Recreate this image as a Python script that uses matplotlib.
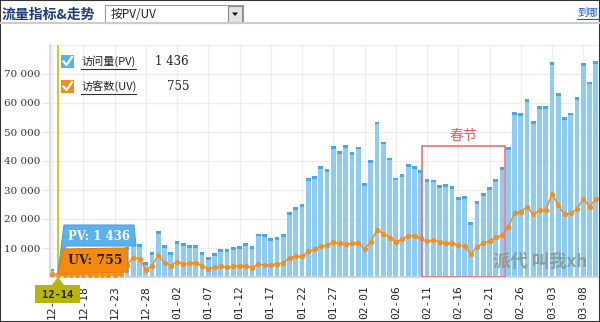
import matplotlib
matplotlib.use("Agg")
import matplotlib.pyplot as plt
from matplotlib.patches import Rectangle, Polygon
import numpy as np
import pandas as pd

# ---------------- data ----------------
start_date = "2012-12-13"
pv = [2900, 1436, 1500, 1700, 1900, 1800, 2100, 2300, 2200, 2500, 2400, 9600, 10200,
      11800, 11500, 5300, 8600, 16000, 11000, 8700, 12500, 11700,
      11000, 11000, 8700, 7000, 8400, 9600, 9500, 10300, 10800, 11600, 10700,
      15000, 14700, 13300, 13900, 14700, 22500, 24000, 25100, 34000, 34700,
      38300, 37300, 45200, 43500, 45500, 43000, 45000, 32500, 40400, 53600,
      46700, 41200, 34300, 35400, 39000, 38200, 36900, 33900, 33600, 31600,
      32200, 31400, 27700, 28000, 18900, 26300, 28900, 31000, 33800, 37900,
      44700, 56800, 56500, 61400, 53800, 59000, 59000, 74000, 63300, 55200,
      56700, 62200, 73700, 67400, 74500]
uv = [950, 755, 800, 760, 820, 780, 850, 800, 760, 820, 790, 900, 4200,
      6700, 6200, 2400, 3900, 7500, 4900, 3900, 5300, 4500,
      4700, 4800, 3800, 2900, 3300, 3800, 3300, 3800, 3800, 3800, 3100,
      4500, 4100, 4100, 4600, 4800, 6700, 7100, 7100, 8900, 9500,
      10700, 10900, 12000, 11600, 11400, 11600, 11800, 9600, 12200, 16200,
      15000, 13600, 12200, 13000, 14300, 14300, 13300, 12300, 12800, 12100,
      11700, 11700, 10900, 10800, 7800, 10500, 11600, 12500, 13700, 14500,
      17100, 22200, 22500, 24200, 21600, 23000, 23000, 28700, 24700, 21600,
      22000, 23400, 27000, 24300, 26800]
yticks = [10000, 20000, 30000, 40000, 50000, 60000, 70000]
title_text = "流量指标&走势"
dropdown_text = "按PV/UV"
link_text = "到哪"
legend_names = ["访问量(PV)", "访客数(UV)"]
legend_vals = ["1 436", "755"]
tip_date = "12-14"
tip_pv = "PV: 1 436"
tip_uv = "UV: 755"
holiday_text = "春节"
watermark = "派代 叫我xh"

n = len(pv)
dates = pd.date_range(start_date, periods=n, freq="D")
date_labels = [d.strftime("%m-%d") for d in dates]
idx = np.arange(n)
pv = np.array(pv, dtype=float)
uv = np.array(uv, dtype=float)

CJK = ["Noto Sans CJK SC", "DejaVu Sans"]
W, H = 600, 322

fig = plt.figure(figsize=(6.0, 3.22), dpi=100)
fig.patch.set_facecolor("white")


def fx(x):
    return x / W


def fy(y):
    return 1 - y / H


ax = fig.add_axes([fx(50), fy(277), fx(598) - fx(50), fy(45) - fy(277)])
ax.set_facecolor("white")
ax.set_xlim(-0.32, 87.36)
ax.set_ylim(0, 80000)

# grid
for yv in list(yticks) + [80000]:
    ax.axhline(yv, color="#ededed", lw=1.0, zorder=0)
for i in idx[::5]:
    ax.axvline(i, color="#ededed", lw=1.0, zorder=0)

# bars with darker cap
cap = 1000.0
ax.bar(idx, pv, width=0.74, color="#8ecbf5", zorder=2, linewidth=0)
ax.bar(idx, np.minimum(cap, pv), bottom=np.maximum(pv - cap, 0), width=0.74,
       color="#48a7ec", zorder=2.1, linewidth=0)

# UV line
ax.plot(idx, uv, color="#f5901e", lw=1.2, marker="o", ms=3.8,
        markeredgewidth=0, zorder=3)

for s in ["top", "right"]:
    ax.spines[s].set_visible(False)
ax.spines["left"].set_color("#dcdcdc")
ax.spines["left"].set_linewidth(1.5)
ax.spines["bottom"].set_color("#cfcfcf")
ax.spines["bottom"].set_linewidth(1.2)

ax.set_yticks(yticks)
ax.set_yticklabels([f"{v:,}".replace(",", " ") for v in yticks],
                   family="DejaVu Serif", fontsize=7.5, color="#333333")
ax.tick_params(axis="y", length=6, color="#e6e6e6", pad=1)
ax.set_xticks(idx[::5])
ax.set_xticklabels(date_labels[::5], rotation=90, family="DejaVu Sans Mono",
                   fontsize=8, color="#222222")
ax.tick_params(axis="x", length=0, pad=6)

# holiday box
ax.add_patch(Rectangle((59.2, 0), 13.3, 45200, fill=False, edgecolor="#f07070",
                       lw=1.2, zorder=4))
ax.text(65.85, 48500, holiday_text, family=CJK, fontsize=10, color="#f05a5a",
        ha="center", va="center", zorder=4)

# watermark
fig.text(fx(540), fy(262), watermark, family=CJK, fontsize=12.5,
         fontweight="bold", color="#7f9a88", alpha=0.85, ha="center",
         va="center", style="italic", zorder=5)

# tooltip vertical line
ax.axvline(1, color="#c6c200", lw=1.2, zorder=6)
fig.add_artist(plt.Line2D([fx(58), fx(58)], [fy(277), fy(286)], color="#c6c200",
                          lw=1.2, transform=fig.transFigure))

# date label
fig.add_artist(Polygon([(fx(35), fy(285)), (fx(52), fy(285)), (fx(58), fy(277)),
                        (fx(64), fy(285)), (fx(80), fy(285)), (fx(80), fy(303)),
                        (fx(35), fy(303))], closed=True, facecolor="#b8b408",
                       edgecolor="none", transform=fig.transFigure, zorder=7))
fig.text(fx(57.5), fy(294.5), tip_date, family="DejaVu Sans Mono", fontsize=7.5,
         color="#222222", ha="center", va="center", zorder=8, fontweight="bold")

# PV tooltip box
fig.add_artist(Polygon([(fx(58), fy(272)), (fx(64), fy(225)), (fx(134), fy(225)),
                        (fx(136), fy(246)), (fx(66), fy(246))], closed=True,
                       facecolor="#5bb1ee", edgecolor="#4aa3e3", lw=0.8,
                       transform=fig.transFigure, zorder=7))
fig.text(fx(99), fy(236), tip_pv, family="DejaVu Serif", fontsize=8.5,
         fontweight="bold", color="white", ha="center", va="center", zorder=8)

# UV tooltip box
fig.add_artist(Polygon([(fx(58), fy(274)), (fx(63), fy(249)), (fx(127), fy(248)),
                        (fx(128), fy(272)), (fx(60), fy(274))], closed=True,
                       facecolor="#f78a0c", edgecolor="#e57d05", lw=0.8,
                       transform=fig.transFigure, zorder=7.5))
fig.text(fx(95), fy(261), tip_uv, family="DejaVu Serif", fontsize=9,
         fontweight="bold", color="#222222", ha="center", va="center", zorder=8)

# legend
colors_leg = ["#5bb1ee", "#f78a1d"]
for k, yc in enumerate([61.5, 86.5]):
    fig.add_artist(Rectangle((fx(61), fy(yc + 6.5)), fx(13), 13 / H,
                             facecolor=colors_leg[k], edgecolor="none",
                             transform=fig.transFigure, zorder=7))
    fig.add_artist(plt.Line2D([fx(63.5), fx(66.5), fx(72)],
                              [fy(yc), fy(yc + 3.5), fy(yc - 4.5)],
                              color="white", lw=1.6, transform=fig.transFigure,
                              zorder=8))
    t = fig.text(fx(81), fy(yc), legend_names[k], family=CJK, fontsize=8,
                 color="#222222", ha="left", va="center", zorder=8)
    fig.add_artist(plt.Line2D([fx(81), fx(136)], [fy(yc + 7), fy(yc + 7)],
                              color="#333333", lw=0.8, transform=fig.transFigure,
                              zorder=8))
    fig.text(fx(189), fy(yc), legend_vals[k], family="DejaVu Serif",
             fontsize=8.5, color="#222222", ha="right", va="center", zorder=8)

# header
fig.text(fx(2), fy(15), title_text, family=CJK, fontsize=10, fontweight="bold",
         color="#1b3a80", ha="left", va="center")
fig.add_artist(Rectangle((fx(105), fy(23)), fx(138), 18 / H, facecolor="white",
                         edgecolor="#9a9a9a", lw=0.8, transform=fig.transFigure))
fig.add_artist(Rectangle((fx(228), fy(22)), fx(14), 16 / H, facecolor="#e4e4e4",
                         edgecolor="#8a8a8a", lw=0.8, transform=fig.transFigure))
fig.add_artist(Polygon([(fx(232), fy(12.5)), (fx(238), fy(12.5)), (fx(235), fy(16))],
                       closed=True, facecolor="#111111", edgecolor="none",
                       transform=fig.transFigure))
fig.text(fx(111), fy(14.5), dropdown_text, family=CJK, fontsize=8.5,
         color="#222222", ha="left", va="center")
fig.text(fx(577), fy(12.5), link_text, family=CJK, fontsize=7.5,
         color="#1a55c8", ha="left", va="center")
fig.add_artist(plt.Line2D([fx(577), fx(600)], [fy(19), fy(19)], color="#1a55c8",
                          lw=0.8, transform=fig.transFigure))
fig.add_artist(plt.Line2D([0, 1], [fy(23), fy(23)], color="#cccccc", lw=1.5,
                          transform=fig.transFigure))

# outer frame
fig.add_artist(Rectangle((0, 0), 1, 1, fill=False, edgecolor="#333333", lw=1.5,
                         transform=fig.transFigure))

fig.savefig("out.png", dpi=100, facecolor="white")
